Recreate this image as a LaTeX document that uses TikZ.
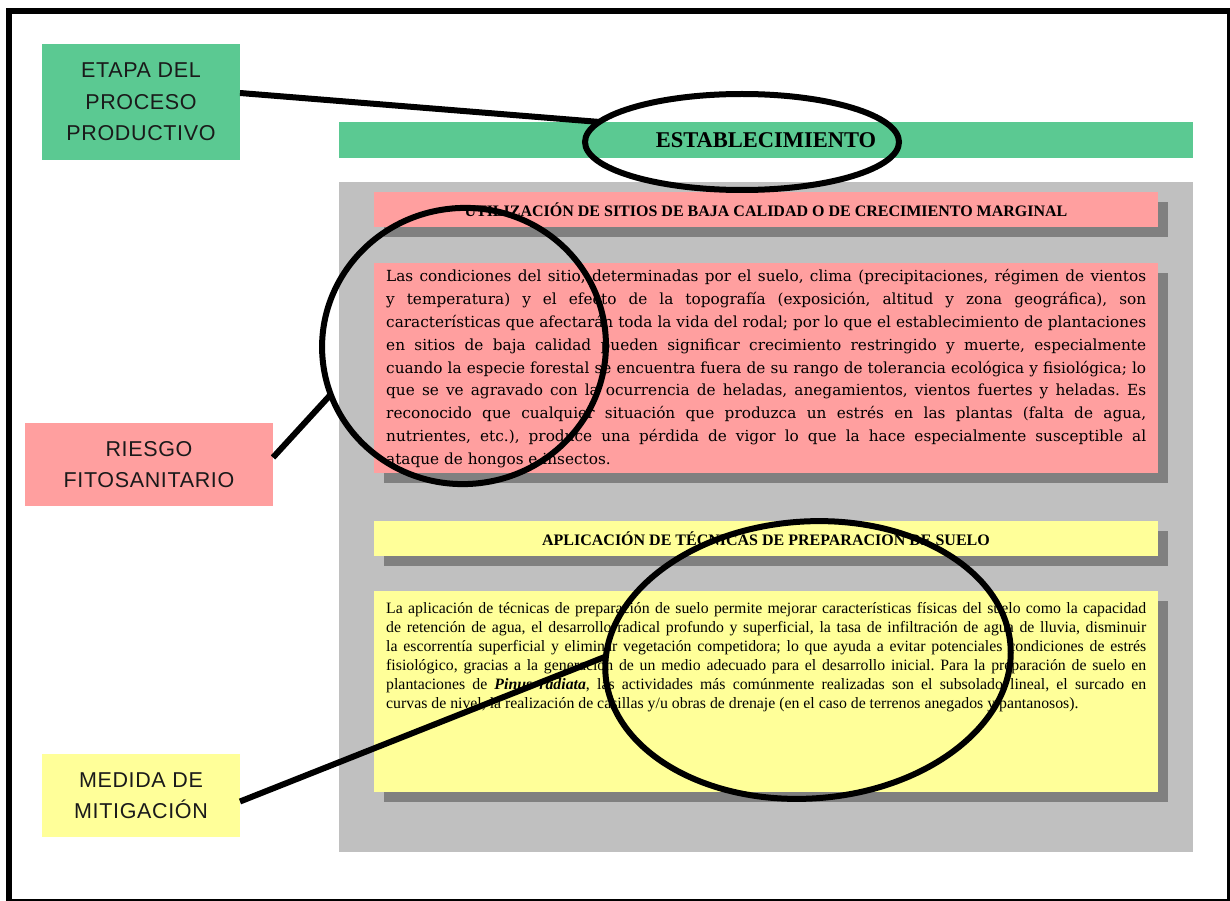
\documentclass[tikz,border=0pt]{standalone}
\usepackage{fontspec}
\setmainfont{Liberation Serif}
\newfontfamily\labelfont[LetterSpace=3]{Liberation Sans}
\newfontfamily\pinkfont{DejaVu Serif}
\usetikzlibrary{shadows,shapes.geometric}
\definecolor{grn}{HTML}{5BC992}
\definecolor{pnk}{HTML}{FF9F9F}
\definecolor{ylw}{HTML}{FFFF99}
\definecolor{pnl}{HTML}{C0C0C0}
\definecolor{shd}{HTML}{808080}
\definecolor{ink}{HTML}{1A1A1A}
\frenchspacing
\begin{document}
\begin{tikzpicture}[x=1pt,y=-1pt,
  box/.style={draw=none, inner sep=0pt, outer sep=0pt, anchor=north west},
  shbox/.style={box, general shadow={fill=shd, shadow xshift=10pt, shadow yshift=-10pt}},
  lbl/.style={box, align=center, text=ink, font=\labelfont\fontsize{21.5}{31.5}\selectfont},
  hdr/.style={font=\bfseries\fontsize{16}{18}\selectfont},
  bodytext/.style={anchor=north west, inner sep=0pt, text width=760pt, align=justify},
  conn/.style={line width=6pt},
  ring/.style={draw, ellipse, line width=6pt, inner sep=0pt, outer sep=0pt}]
\useasboundingbox (0,0) rectangle (1230,901);
\fill[white] (0,0) rectangle (1230,901);
\draw[line width=6pt] (9,11) rectangle (1230,902);

% labels
\node[lbl, fill=grn, minimum width=198pt, minimum height=116pt] (etapa) at (42,44) {ETAPA DEL\\PROCESO\\PRODUCTIVO};
\node[lbl, fill=pnk, minimum width=248pt, minimum height=83pt] (riesgo) at (25,423) {RIESGO\\FITOSANITARIO};
\node[lbl, fill=ylw, minimum width=198pt, minimum height=83pt] (medida) at (42,754) {MEDIDA DE\\MITIGACIÓN};

% main column
\node[box, fill=grn, minimum width=854pt, minimum height=36pt, font=\bfseries\fontsize{22.5}{24}\selectfont] (estab) at (339,122) {ESTABLECIMIENTO};
\node[box, fill=pnl, minimum width=854pt, minimum height=670pt] (panel) at (339,182) {};

\node[shbox, fill=pnk, minimum width=784pt, minimum height=35pt, hdr] (utilH) at (374,192) {UTILIZACIÓN DE SITIOS DE BAJA CALIDAD O DE CRECIMIENTO MARGINAL};
\node[shbox, fill=pnk, minimum width=784pt, minimum height=210pt] (utilB) at (374,263) {};
\node[bodytext, font=\pinkfont\fontsize{15.3}{22.9}\selectfont] (utilT) at (386,269) {Las condiciones del sitio, determinadas por el suelo, clima (precipitaciones, régimen de vientos\linebreak
y temperatura) y el efecto de la topografía (exposición, altitud y zona geográfica), son\linebreak
características que afectarán toda la vida del rodal; por lo que el establecimiento de plantaciones\linebreak
en sitios de baja calidad pueden significar crecimiento restringido y muerte, especialmente\linebreak
cuando la especie forestal se encuentra fuera de su rango de tolerancia ecológica y fisiológica; lo\linebreak
que se ve agravado con la ocurrencia de heladas, anegamientos, vientos fuertes y heladas. Es\linebreak
reconocido que cualquier situación que produzca un estrés en las plantas (falta de agua,\linebreak
nutrientes, etc.), produce una pérdida de vigor lo que la hace especialmente susceptible al\linebreak
ataque de hongos e insectos.};

\node[shbox, fill=ylw, minimum width=784pt, minimum height=35pt, hdr] (aplH) at (374,521) {APLICACIÓN DE TÉCNICAS DE PREPARACION DE SUELO};
\node[shbox, fill=ylw, minimum width=784pt, minimum height=201pt] (aplB) at (374,591) {};
\node[bodytext, font=\fontsize{15.8}{19}\selectfont] (aplT) at (386,602) {La aplicación de técnicas de preparación de suelo permite mejorar características físicas del suelo como la capacidad\linebreak
de retención de agua, el desarrollo radical profundo y superficial, la tasa de infiltración de agua de lluvia, disminuir\linebreak
la escorrentía superficial y eliminar vegetación competidora; lo que ayuda a evitar potenciales condiciones de estrés\linebreak
fisiológico, gracias a la generación de un medio adecuado para el desarrollo inicial. Para la preparación de suelo en\linebreak
plantaciones de \textbf{\textit{Pinus radiata}}, las actividades más comúnmente realizadas son el subsolado lineal, el surcado en\linebreak
curvas de nivel, la realización de casillas y/u obras de drenaje (en el caso de terrenos anegados y pantanosos).};

% rings
\node[ring, minimum width=314pt, minimum height=96pt] (ring1) at (742,142) {};
\node[ring, minimum width=284pt, minimum height=276pt, rotate=8] (ring2) at (464,346) {};
\node[ring, minimum width=406pt, minimum height=277pt, rotate=4] (ring3) at (808,660) {};

% connectors
\draw[conn] ([yshift=9pt]etapa.east) -- (ring1.172);
\draw[conn] ([yshift=7pt]riesgo.east) -- (ring2.192);
\draw[conn] ([yshift=-6pt]medida.east) -- (ring3.175);
\end{tikzpicture}
\end{document}
